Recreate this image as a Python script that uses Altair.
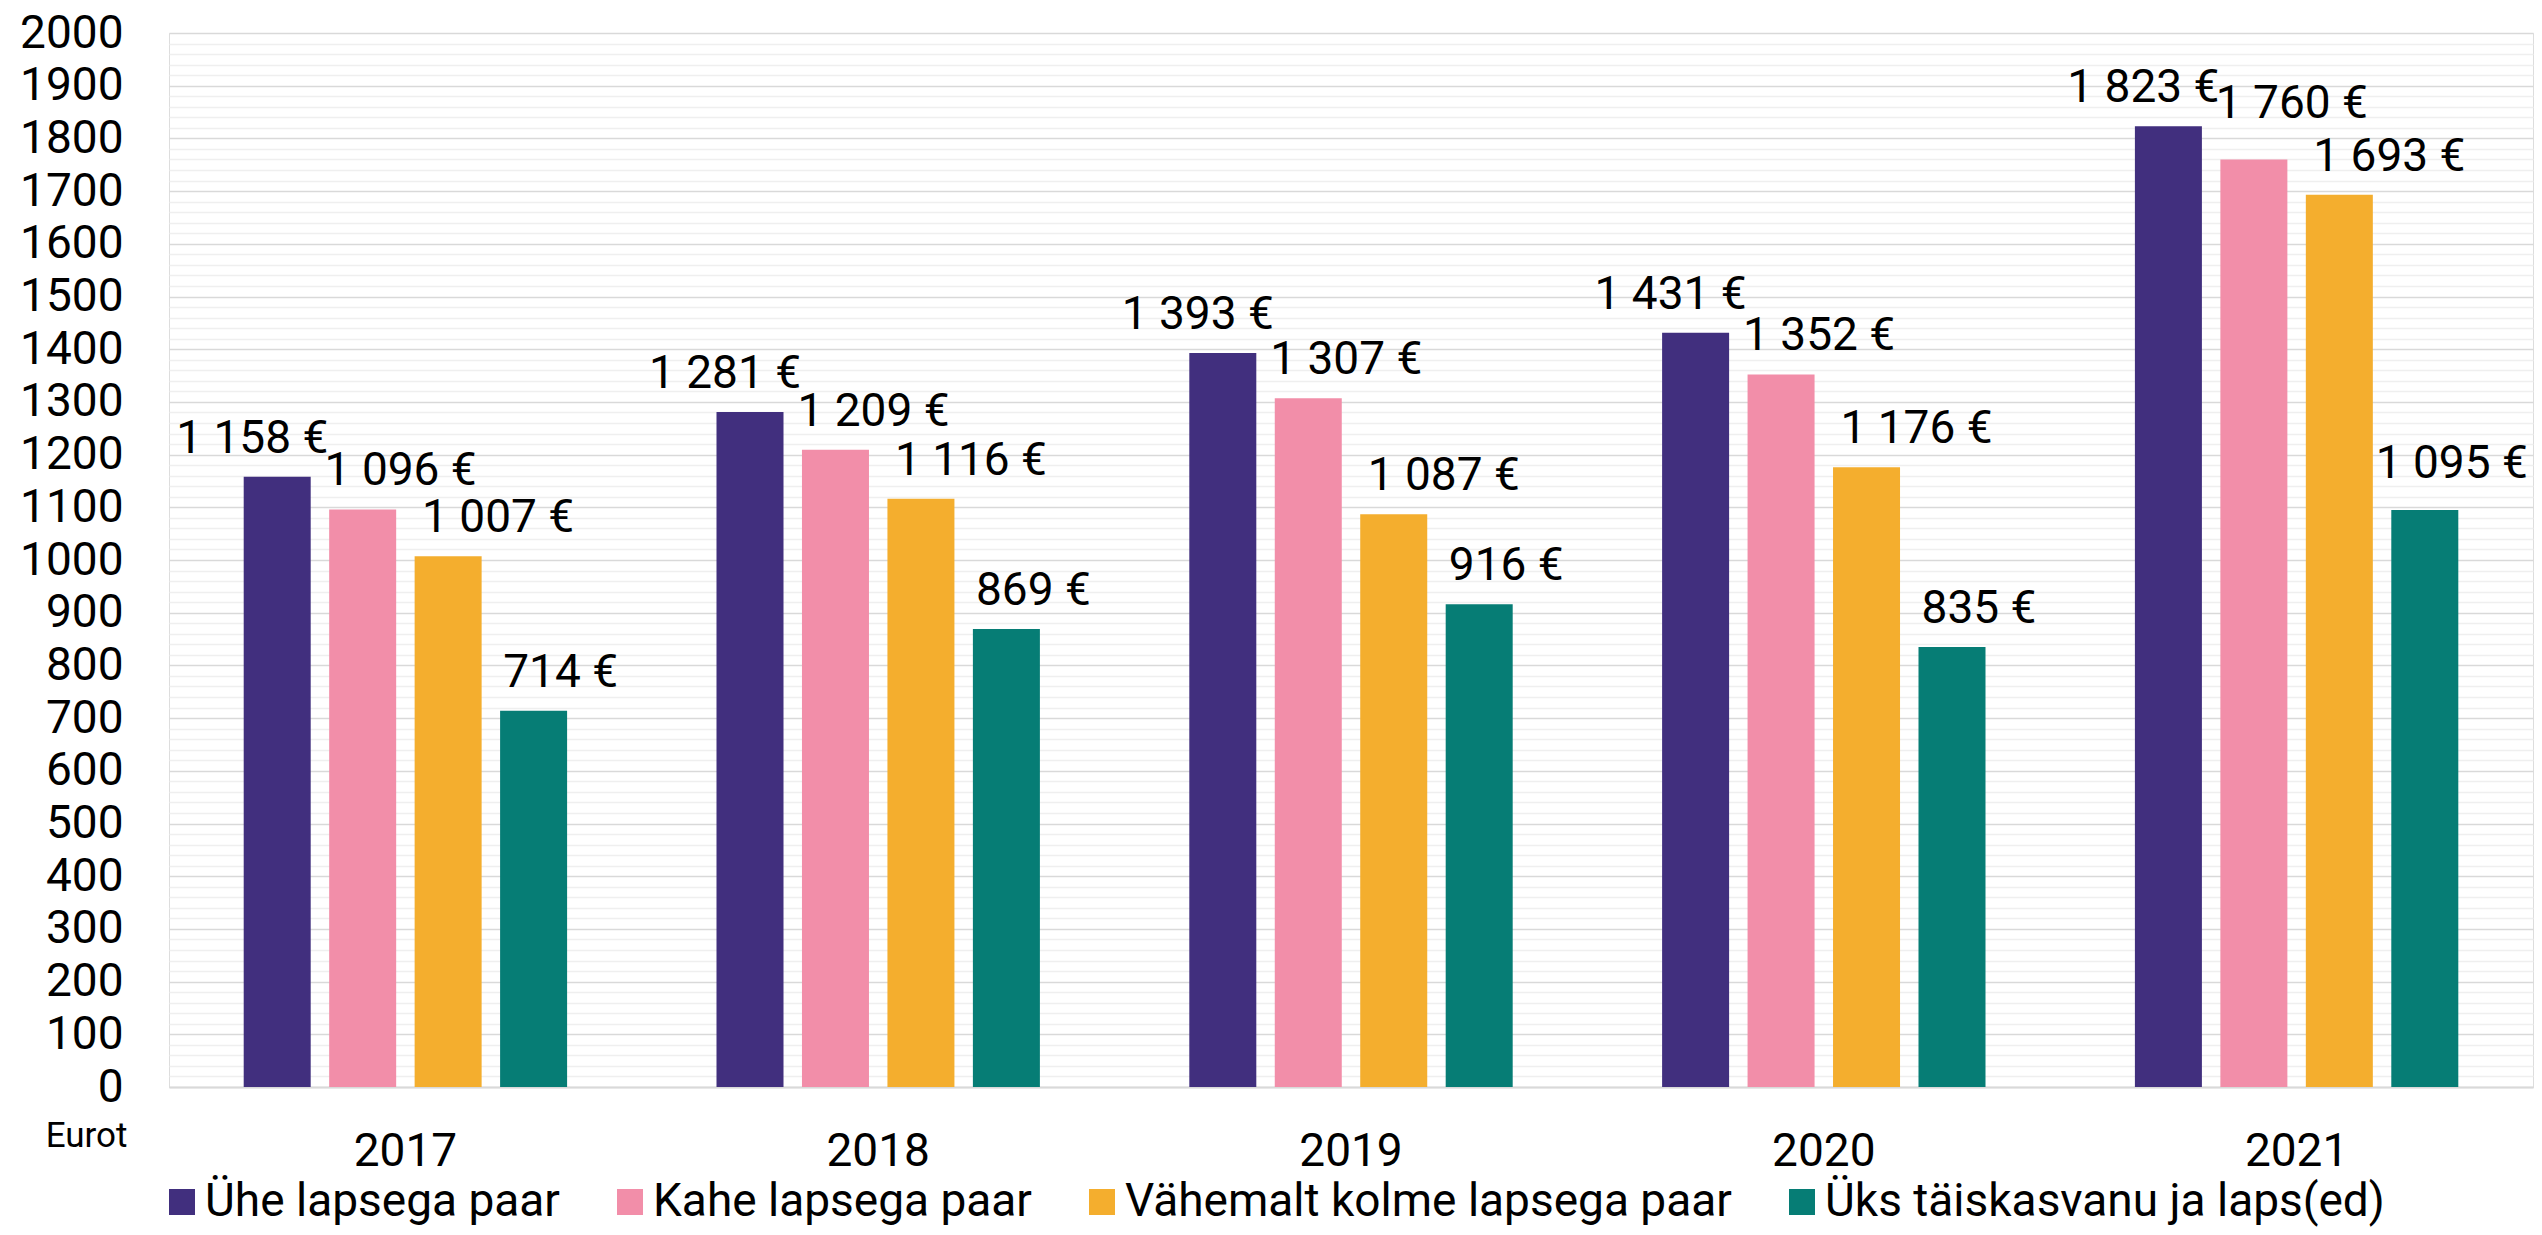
import altair as alt
import pandas as pd

YEARS = ["2017", "2018", "2019", "2020", "2021"]
SERIES = [
    "Ühe lapsega paar",
    "Kahe lapsega paar",
    "Vähemalt kolme lapsega paar",
    "Üks täiskasvanu ja laps(ed)",
]
COLORS = ["#412F7E", "#F28EA9", "#F4AE2E", "#067D75"]

ONE_CHILD = [1158, 1281, 1393, 1431, 1823]
TWO_CHILD = [1096, 1209, 1307, 1352, 1760]
THREE_PLUS = [1007, 1116, 1087, 1176, 1693]
SINGLE_ADULT = [714, 869, 916, 835, 1095]

Y_TICKS = list(range(0, 2001, 20))

# label nudges (px) per series, mimicking the reference's hand-placed labels
LABEL_DX = [-25, 38, 50, 27]
# extra vertical lift (px) of a few labels that were moved up in the reference
LABEL_LIFT_PX = {("2021", SERIES[1]): 17, ("2021", SERIES[3]): 8}
PX_PER_UNIT = 1054 / 2000

rows = []
for s, vals in zip(SERIES, [ONE_CHILD, TWO_CHILD, THREE_PLUS, SINGLE_ADULT]):
    for y, v in zip(YEARS, vals):
        rows.append({
            "year": y,
            "series": s,
            "value": v,
            "label": f"{v:,}".replace(",", " ") + " €",
            "lift": LABEL_LIFT_PX.get((y, s), 0) / PX_PER_UNIT,
        })
df = pd.DataFrame(rows)

FONT = "Roboto"

x_enc = alt.X(
    "year:N",
    sort=YEARS,
    scale=alt.Scale(paddingInner=0.316, paddingOuter=0.158),
    axis=alt.Axis(
        title=None,
        labelAngle=0,
        labelFontSize=46,
        labelFont=FONT,
        labelColor="#000000",
        labelPadding=42,
        ticks=False,
        domainColor="#d9d9d9",
        domainWidth=2,
        grid=False,
    ),
)
xoff_enc = alt.XOffset(
    "series:N", sort=SERIES, scale=alt.Scale(paddingInner=0.216, paddingOuter=0)
)
y_enc = alt.Y(
    "value:Q",
    scale=alt.Scale(domain=[0, 2000], nice=False),
    axis=alt.Axis(
        values=Y_TICKS,
        tickCount=500,
        format="d",
        labelExpr="datum.value % 100 === 0 ? datum.label : ''",
        labelOverlap=False,
        labelFontSize=46,
        labelFont=FONT,
        labelColor="#000000",
        labelPadding=46,
        ticks=False,
        domain=False,
        grid=True,
        gridColor={
            "condition": {"test": "datum.value % 100 === 0", "value": "#d9d9d9"},
            "value": "#efefef",
        },
        gridWidth=1.5,
        title="Eurot",
        titleAngle=0,
        titleAlign="right",
        titleBaseline="alphabetic",
        titleX=-42,
        titleY=1113,
        titleFontSize=35,
        titleFontWeight="normal",
        titleFont=FONT,
        titleColor="#000000",
    ),
)

bars = alt.Chart(df).mark_bar().encode(
    x=x_enc,
    xOffset=xoff_enc,
    y=y_enc,
    color=alt.Color(
        "series:N",
        scale=alt.Scale(domain=SERIES, range=COLORS),
        legend=alt.Legend(
            title=None,
            orient="none",
            legendX=-10,
            legendY=1146,
            direction="horizontal",
            symbolType="square",
            symbolSize=676,
            symbolStrokeWidth=0,
            labelFontSize=46,
            labelFont=FONT,
            labelColor="#000000",
            labelOffset=0,
            labelLimit=2000,
            columnPadding=47,
            padding=0,
        ),
    ),
)

label_layers = []
for s, dx in zip(SERIES, LABEL_DX):
    label_layers.append(
        alt.Chart(df)
        .transform_filter(alt.datum.series == s)
        .transform_calculate(label_y="datum.value + datum.lift")
        .mark_text(
            font=FONT,
            fontSize=46,
            color="#000000",
            baseline="alphabetic",
            align="center",
            dy=-24,
            dx=dx,
        )
        .encode(
            x=alt.X("year:N", sort=YEARS),
            xOffset=alt.XOffset("series:N", sort=SERIES),
            y=alt.Y("label_y:Q"),
            text="label:N",
        )
    )

chart = (
    alt.layer(bars, *label_layers)
    .properties(
        width=2364,
        height=1054,
        autosize=alt.AutoSizeParams(type="none"),
        padding={"left": 161, "top": 25, "right": 1, "bottom": 140},
    )
    .configure_view(stroke=None)
    .configure(font=FONT)
)

chart.save("out.html", embed_options={"renderer": "svg", "actions": False})
